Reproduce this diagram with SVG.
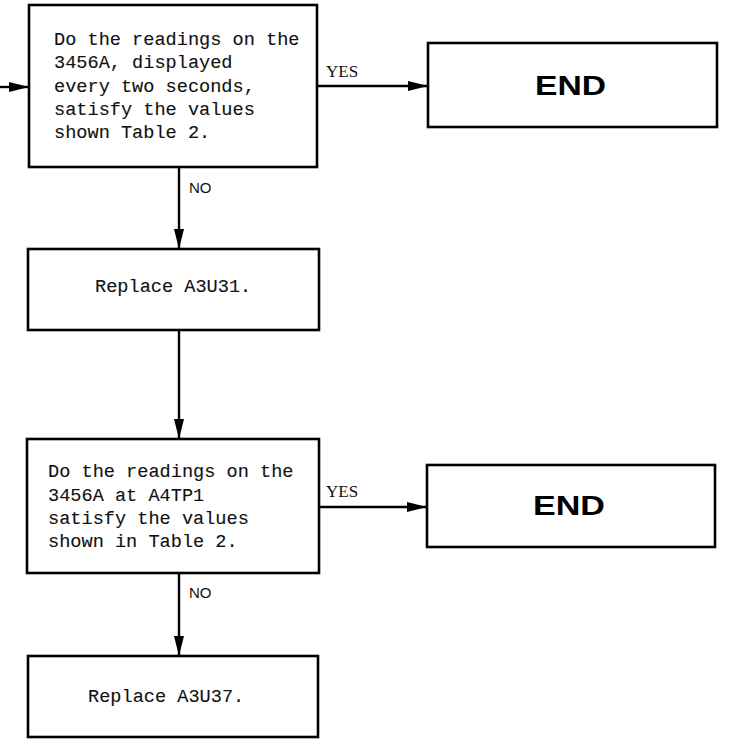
<svg xmlns="http://www.w3.org/2000/svg" width="732" height="745" viewBox="0 0 732 745">
  <defs>
    <marker id="arrow" markerUnits="userSpaceOnUse" markerWidth="20" markerHeight="12" refX="20" refY="6" orient="auto">
      <path d="M0,1 L20,6 L0,11 Z" fill="#000"/>
    </marker>
    <style>
      .box { fill: #fff; stroke: #000; stroke-width: 2.6; }
      .wire { fill: none; stroke: #000; stroke-width: 2.4; marker-end: url(#arrow); }
      .mono { font-family: "Liberation Mono", "DejaVu Sans Mono", monospace; font-size: 18.6px; fill: #111; stroke: #111; stroke-width: 0.12px; }
      .no { font-family: "Liberation Sans", Arial, sans-serif; font-size: 15px; fill: #111; }
      .yes { font-family: "Liberation Serif", "Times New Roman", serif; font-size: 17px; fill: #111; }
      .end { font-family: "Liberation Sans", Arial, sans-serif; font-weight: bold; font-size: 28px; fill: #000; }
    </style>
  </defs>
  <rect width="732" height="745" fill="#fff"/>

  <g id="connectors">
    <line class="wire" x1="0" y1="87" x2="29" y2="87"/>
    <line class="wire" x1="317" y1="86" x2="428" y2="86"/>
    <line class="wire" x1="179" y1="167" x2="179" y2="249"/>
    <line class="wire" x1="179" y1="330" x2="179" y2="439"/>
    <line class="wire" x1="319" y1="507" x2="427" y2="507"/>
    <line class="wire" x1="179" y1="573" x2="179" y2="656"/>
    <text class="yes" x="326" y="77">YES</text>
    <text class="no" x="189" y="193">NO</text>
    <text class="yes" x="326" y="497">YES</text>
    <text class="no" x="189" y="598">NO</text>
  </g>

  <g id="check-display">
    <rect class="box" x="29" y="5" width="288" height="162"/>
    <text class="mono">
      <tspan x="54" y="45">Do the readings on the</tspan>
      <tspan x="54" y="68">3456A, displayed</tspan>
      <tspan x="54" y="92">every two seconds,</tspan>
      <tspan x="54" y="115">satisfy the values</tspan>
      <tspan x="54" y="138">shown Table 2.</tspan>
    </text>
  </g>

  <g id="end-1">
    <rect class="box" x="428" y="43" width="289" height="84"/>
    <text class="end" x="535" y="95" textLength="71" lengthAdjust="spacingAndGlyphs">END</text>
  </g>

  <g id="replace-a3u31">
    <rect class="box" x="28" y="249" width="291" height="81"/>
    <text class="mono" x="95" y="292">Replace A3U31.</text>
  </g>

  <g id="check-a4tp1">
    <rect class="box" x="27" y="439" width="292" height="134"/>
    <text class="mono">
      <tspan x="48" y="477">Do the readings on the</tspan>
      <tspan x="48" y="501">3456A at A4TP1</tspan>
      <tspan x="48" y="524">satisfy the values</tspan>
      <tspan x="48" y="547">shown in Table 2.</tspan>
    </text>
  </g>

  <g id="end-2">
    <rect class="box" x="427" y="465" width="288" height="82"/>
    <text class="end" x="533" y="515" textLength="72" lengthAdjust="spacingAndGlyphs">END</text>
  </g>

  <g id="replace-a3u37">
    <rect class="box" x="28" y="656" width="290" height="81"/>
    <text class="mono" x="88" y="702">Replace A3U37.</text>
  </g>
</svg>
